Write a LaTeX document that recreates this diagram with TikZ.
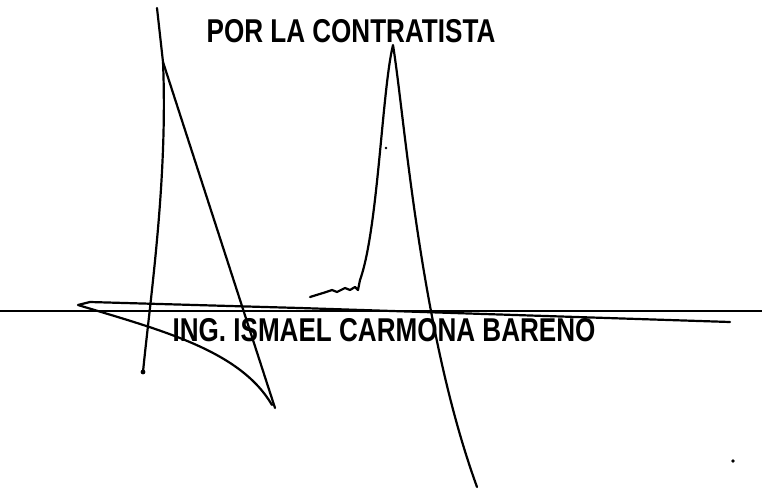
\documentclass[tikz,border=0pt]{standalone}
\usepackage{fontspec}
\setmainfont{Liberation Sans}
\usetikzlibrary{positioning}
\tikzset{trazo/.style={line width=2.2pt,line cap=round,line join=round},
         rotulo/.style={font=\fontsize{33}{35}\selectfont\bfseries,inner sep=0pt,
                        xscale=0.79,transform shape}}

\begin{document}
\begin{tikzpicture}[x=1pt,y=-1pt]
                    \useasboundingbox (0,0) rectangle (762,493);
                    \node[rotulo] (t1) at (351,31.5) {POR LA CONTRATISTA};
                    \node[rotulo] (t2) at (384,330) {ING. ISMAEL CARMONA BARENO};
                    \coordinate (l1) at (0,311);
                    \coordinate (l2) at (762,311);
                    \draw[line width=1.5pt] (l1) -- (l2);
                    % firma
                    \draw[trazo] (157,8) -- (163,62) -- (275,408);
                    \draw[trazo] (163,62) .. controls (168,180) and (150,300) .. (143,372);
                    \draw[trazo] (730,322) -- (300,308) -- (90,302) -- (78,305)
                        .. controls (160,330) and (240,350) .. (272,405);
                    \draw[trazo] (310,297) -- (323,293) -- (332,290) -- (337,292) -- (345,288)
                        -- (350,290) -- (355,287) -- (358,290) -- (360,280)
                        .. controls (378,230) and (382,90) .. (393,45)
                        .. controls (405,120) and (420,330) .. (477,487);
                    \fill (386,148) circle (1.3);
                    \fill (733,461) circle (1.8);
                    \fill (143,372) circle (2.4);
                \end{tikzpicture}
\end{document}
